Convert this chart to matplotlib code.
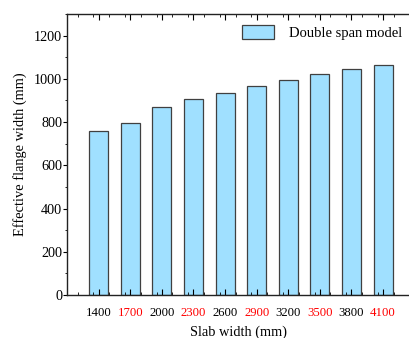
import matplotlib.pyplot as plt
from matplotlib.ticker import MultipleLocator

# slab widths (mm) and effective flange width (mm), double span model
slab_widths = [1400, 1700, 2000, 2300, 2600, 2900, 3200, 3500, 3800, 4100]
flange_widths = [761, 794, 870, 907, 936, 967, 996, 1021, 1046, 1064]
label_colors = ["black", "red"] * 5

plt.rcParams["font.family"] = ["Liberation Serif", "DejaVu Serif"]

fig = plt.figure(figsize=(4.09, 3.38), dpi=100)
W, H = 409, 338
ax = fig.add_axes([67 / W, (H - 295) / H, (411 - 67) / W, (295 - 14) / H])

ax.bar(slab_widths, flange_widths, width=180, color="#A0E0FF",
       edgecolor="#404040", linewidth=0.9, label="Double span model")

ax.set_xlim(1100, 4365)
ax.set_ylim(0, 1300)
ax.set_xticks(slab_widths)
ax.set_xticklabels([str(s) for s in slab_widths])
for lbl, c in zip(ax.get_xticklabels(), label_colors):
    lbl.set_color(c)
ax.xaxis.set_minor_locator(MultipleLocator(150))
ax.yaxis.set_major_locator(MultipleLocator(200))
ax.yaxis.set_minor_locator(MultipleLocator(100))

ax.tick_params(axis="x", which="both", direction="in", top=True, labelsize=9.2, pad=9)
ax.tick_params(axis="x", which="major", length=4)
ax.tick_params(axis="x", which="minor", length=2.5)
ax.tick_params(axis="y", which="both", direction="out", right=True, labelsize=10.2, pad=0.8)
ax.tick_params(axis="y", which="major", length=2.6)
ax.tick_params(axis="y", which="minor", length=1.8)
for s in ax.spines.values():
    s.set_linewidth(1.0)
    s.set_color("#222222")

ax.set_xlabel("Slab width (mm)", fontsize=10.4, labelpad=4)
ax.set_ylabel("Effective flange width (mm)", fontsize=10.4, labelpad=5)

ax.legend(loc="upper right", bbox_to_anchor=(1.0 + 7 / 344, 1.0 + 5 / 281), frameon=False,
          fontsize=10.5, handlelength=2.2, handleheight=1.1, handletextpad=1.0, borderpad=0.6)

fig.savefig("out.png", dpi=100)
